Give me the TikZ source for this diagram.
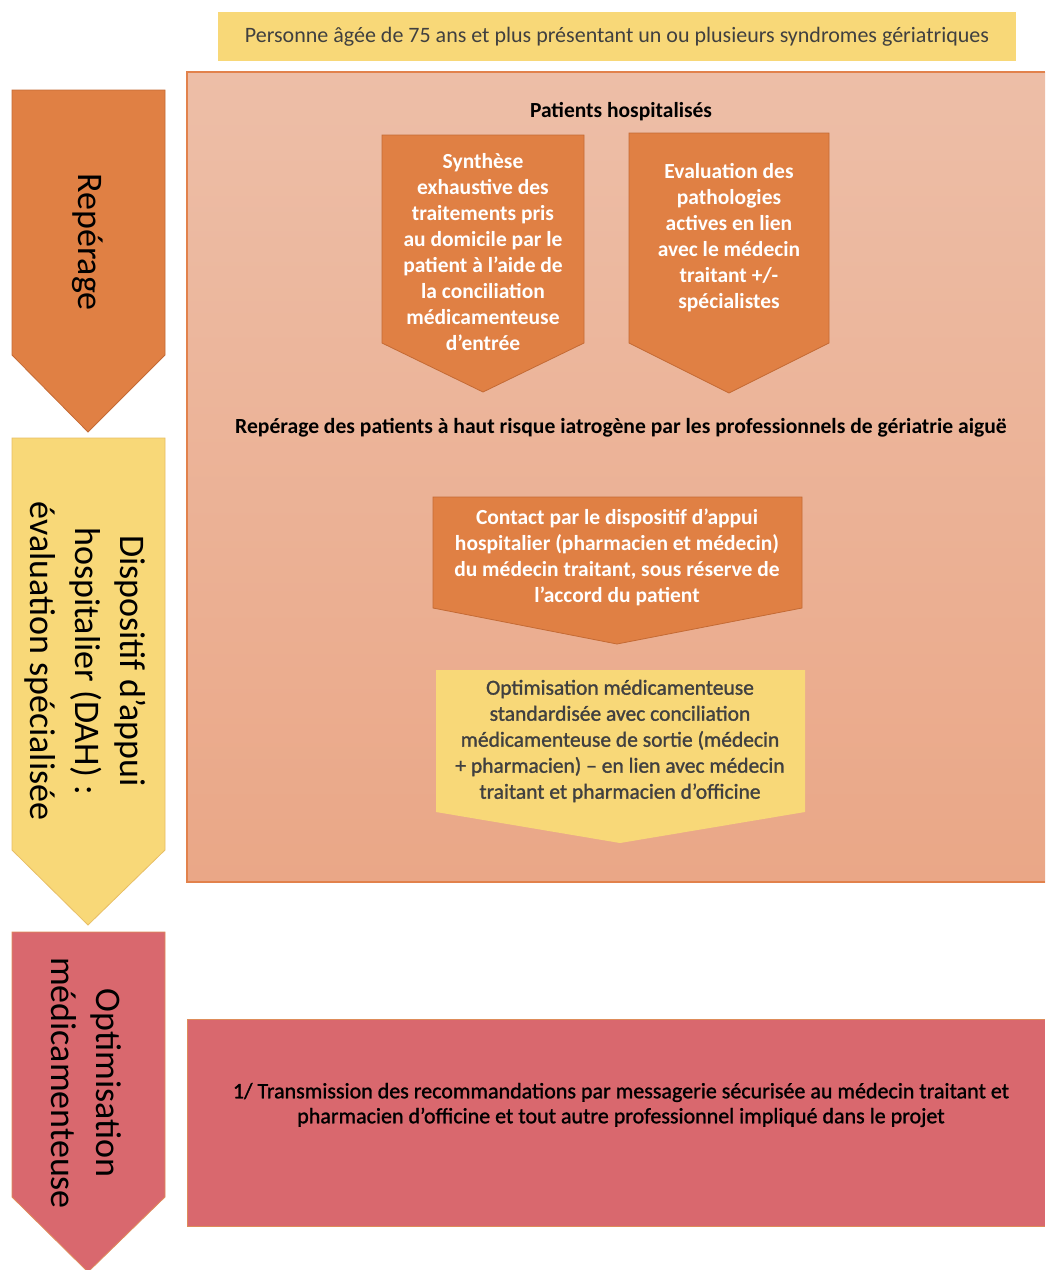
\documentclass[tikz,border=0pt]{standalone}
\usepackage{fontspec}
\setmainfont{Carlito}
\definecolor{orF}{RGB}{224,128,68}
\definecolor{orD}{RGB}{196,106,52}
\definecolor{yeF}{RGB}{248,216,120}
\definecolor{yeD}{RGB}{232,190,100}
\definecolor{reF}{RGB}{217,104,110}
\definecolor{reD}{RGB}{222,140,90}
\definecolor{pnT}{RGB}{237,190,167}
\definecolor{pnB}{RGB}{234,167,135}
\definecolor{pnD}{RGB}{226,130,76}
\definecolor{txG}{RGB}{64,64,64}
\tikzset{
  boxtxt/.style={align=center, inner sep=0pt, font=\fontsize{22}{26}\selectfont},
  wtxt/.style={boxtxt, text=white, font=\bfseries\fontsize{21.5}{26}\selectfont},
  sidetxt/.style={align=center, inner sep=0pt, rotate=-90, font=\fontsize{36}{45}\selectfont, text=black},
  boldhead/.style={inner sep=0pt, font=\bfseries\fontsize{21.5}{26}\selectfont, text=black},
}
\begin{document}
\begin{tikzpicture}[x=1pt,y=-1pt]
\useasboundingbox[fill=white] (0,0) rectangle (1045,1270);
% top box
\fill[yeF] (218,12) rectangle (1016,61);
\node[boxtxt, text=txG] (top) at (617,37) {Personne âgée de 75 ans et plus présentant un ou plusieurs syndromes gériatriques};
% main panel
\shade[top color=pnT, bottom color=pnB] (187,72) rectangle (1045,882);
\draw[pnD, line width=1.5pt] (1045,72) -- (187,72) -- (187,882) -- (1045,882);
\node[boldhead] (hosp) at (621,112) {Patients hospitalisés};
% box 1
\draw[orD, fill=orF, line width=0.8pt] (382,135) -- (584,135) -- (584,343) -- (483,392) -- (382,343) -- cycle;
\node[wtxt] (b1) at (483,252) {Synthèse\\exhaustive des\\traitements pris\\au domicile par le\\patient à l’aide de\\la conciliation\\médicamenteuse\\d’entrée};
% box 2
\draw[orD, fill=orF, line width=0.8pt] (629,133) -- (829,133) -- (829,343) -- (729,393) -- (629,343) -- cycle;
\node[wtxt] (b2) at (729,238) {Evaluation des\\pathologies\\actives en lien\\avec le médecin\\traitant +/-\\spécialistes};
\node[boldhead, font=\bfseries\fontsize{21.6}{26}\selectfont] (rep) at (621,428) {Repérage des patients à haut risque iatrogène par les professionnels de gériatrie aiguë};
% contact box
\draw[orD, fill=orF, line width=0.8pt] (433,497) -- (802,497) -- (802,608) -- (617,644) -- (433,608) -- cycle;
\node[wtxt] (b3) at (617,557) {Contact par le dispositif d’appui\\hospitalier (pharmacien et médecin)\\du médecin traitant, sous réserve de\\l’accord du patient};
% optimisation box
\fill[yeF] (436,670) -- (805,670) -- (805,812) -- (620,843) -- (436,812) -- cycle;
\node[boxtxt, text=txG, font=\fontsize{21.5}{26}\selectfont\addfontfeatures{FakeBold=1.2}] (b4) at (620,741) {Optimisation médicamenteuse\\standardisée avec conciliation\\médicamenteuse de sortie (médecin\\+ pharmacien) – en lien avec médecin\\traitant et pharmacien d’officine};
% bottom red box
\fill[reF] (187,1019) rectangle (1045,1226);
\draw[reD, line width=1pt] (1045,1019) -- (187,1019) -- (187,1226) -- (1045,1226);
\node[boxtxt, text=black, font=\fontsize{22}{25}\selectfont\addfontfeatures{FakeBold=1.2}] (b5) at (621,1105) {1/ Transmission des recommandations par messagerie sécurisée au médecin traitant et\\pharmacien d’officine et tout autre professionnel impliqué dans le projet};
% left arrows
\draw[orD, fill=orF, line width=0.8pt] (12,90) -- (165,90) -- (165,355) -- (88,432) -- (12,355) -- cycle;
\node[sidetxt] (s1) at (88,242) {Repérage};
\draw[yeD, fill=yeF, line width=0.8pt] (12,438) -- (165,438) -- (165,850) -- (88,925) -- (12,850) -- cycle;
\node[sidetxt] (s2) at (85,661) {Dispositif d'appui\\hospitalier (DAH) :\\évaluation spécialisée};
\draw[reD, fill=reF, line width=0.8pt] (12,932) -- (165,932) -- (165,1197) -- (88,1272) -- (12,1197) -- cycle;
\node[sidetxt] (s3) at (86,1083) {Optimisation\\médicamenteuse};
\end{tikzpicture}
\end{document}
